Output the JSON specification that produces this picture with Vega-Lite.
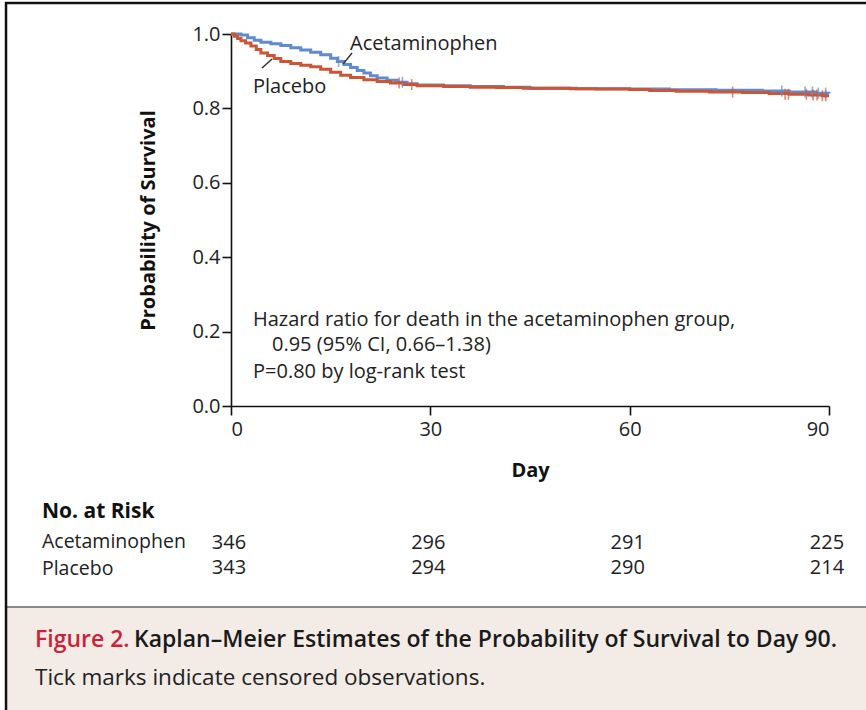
{
  "$schema": "https://vega.github.io/schema/vega-lite/v6.json",
  "width": 598,
  "height": 372,
  "autosize": {"type": "none"},
  "padding": {"left": 231, "top": 34, "right": 37, "bottom": 304},
  "background": "white",
  "config": {
    "view": {"stroke": null},
    "font": "Open Sans",
    "axis": {
      "domainColor": "#111",
      "domainWidth": 1.6,
      "tickColor": "#111",
      "tickWidth": 1.6,
      "tickSize": 9,
      "grid": false,
      "labelColor": "#222",
      "labelFont": "Open Sans",
      "labelFontSize": 20,
      "titleFont": "Open Sans",
      "titleFontWeight": "bold",
      "titleFontSize": 20,
      "titleColor": "#111"
    },
    "text": {"font": "Open Sans", "fontSize": 20, "color": "#222", "align": "left", "baseline": "middle"}
  },
  "layer": [
    {
      "data": {"values": [{"k": "caption"}]},
      "mark": {"type": "rect", "fill": "#f3ece6", "stroke": "#8a8a8a", "strokeWidth": 2},
      "encoding": {
        "x": {"datum": -33.86, "type": "quantitative", "scale": {"domain": [0, 90], "nice": false, "zero": false}, "axis": {"values": [0, 30, 60, 90], "title": "Day", "titlePadding": 21, "labelPadding": 4}},
        "x2": {"datum": 97.7},
        "y": {"datum": -0.5403, "type": "quantitative", "scale": {"domain": [0, 1], "nice": false, "zero": false}, "axis": {"values": [0, 0.2, 0.4, 0.6, 0.8, 1.0], "format": ".1f", "title": "Probability of Survival", "titlePadding": 33, "labelPadding": 2}},
        "y2": {"datum": -0.9}
      }
    },
    {
      "data": {"values": [{"k": "frame"}]},
      "mark": {"type": "rect", "fill": null, "stroke": "#111", "strokeWidth": 2.5},
      "encoding": {
        "x": {"datum": -33.86},
        "x2": {"datum": 97.7},
        "y": {"datum": 1.0833},
        "y2": {"datum": -0.9}
      }
    },
    {
      "data": {"values": [
        {"group": "Acetaminophen", "day": 0, "surv": 1.0},
        {"group": "Acetaminophen", "day": 1.5, "surv": 0.997},
        {"group": "Acetaminophen", "day": 2.5, "surv": 0.99},
        {"group": "Acetaminophen", "day": 3.5, "surv": 0.983},
        {"group": "Acetaminophen", "day": 4.5, "surv": 0.978},
        {"group": "Acetaminophen", "day": 6, "surv": 0.974},
        {"group": "Acetaminophen", "day": 7.5, "surv": 0.969},
        {"group": "Acetaminophen", "day": 9, "surv": 0.963},
        {"group": "Acetaminophen", "day": 10.5, "surv": 0.957},
        {"group": "Acetaminophen", "day": 12, "surv": 0.951},
        {"group": "Acetaminophen", "day": 13.5, "surv": 0.944},
        {"group": "Acetaminophen", "day": 15, "surv": 0.935},
        {"group": "Acetaminophen", "day": 16, "surv": 0.926},
        {"group": "Acetaminophen", "day": 17, "surv": 0.918},
        {"group": "Acetaminophen", "day": 18, "surv": 0.91},
        {"group": "Acetaminophen", "day": 19, "surv": 0.902},
        {"group": "Acetaminophen", "day": 20, "surv": 0.895},
        {"group": "Acetaminophen", "day": 21, "surv": 0.888},
        {"group": "Acetaminophen", "day": 22, "surv": 0.882},
        {"group": "Acetaminophen", "day": 23.5, "surv": 0.876},
        {"group": "Acetaminophen", "day": 25, "surv": 0.87},
        {"group": "Acetaminophen", "day": 26.5, "surv": 0.866},
        {"group": "Acetaminophen", "day": 28, "surv": 0.863},
        {"group": "Acetaminophen", "day": 32, "surv": 0.861},
        {"group": "Acetaminophen", "day": 36, "surv": 0.859},
        {"group": "Acetaminophen", "day": 41, "surv": 0.857},
        {"group": "Acetaminophen", "day": 45, "surv": 0.854},
        {"group": "Acetaminophen", "day": 52, "surv": 0.853},
        {"group": "Acetaminophen", "day": 60, "surv": 0.852},
        {"group": "Acetaminophen", "day": 66, "surv": 0.85},
        {"group": "Acetaminophen", "day": 73, "surv": 0.849},
        {"group": "Acetaminophen", "day": 80, "surv": 0.847},
        {"group": "Acetaminophen", "day": 84, "surv": 0.844},
        {"group": "Acetaminophen", "day": 88, "surv": 0.841},
        {"group": "Acetaminophen", "day": 90, "surv": 0.84},
        {"group": "Placebo", "day": 0, "surv": 1.0},
        {"group": "Placebo", "day": 0.5, "surv": 0.994},
        {"group": "Placebo", "day": 1, "surv": 0.988},
        {"group": "Placebo", "day": 1.5, "surv": 0.982},
        {"group": "Placebo", "day": 2.2, "surv": 0.976},
        {"group": "Placebo", "day": 3, "surv": 0.968},
        {"group": "Placebo", "day": 3.8, "surv": 0.958},
        {"group": "Placebo", "day": 4.5, "surv": 0.949},
        {"group": "Placebo", "day": 5.5, "surv": 0.942},
        {"group": "Placebo", "day": 6.5, "surv": 0.934},
        {"group": "Placebo", "day": 7.5, "surv": 0.926},
        {"group": "Placebo", "day": 9, "surv": 0.921},
        {"group": "Placebo", "day": 10.5, "surv": 0.916},
        {"group": "Placebo", "day": 12, "surv": 0.912},
        {"group": "Placebo", "day": 13.5, "surv": 0.905},
        {"group": "Placebo", "day": 15, "surv": 0.897},
        {"group": "Placebo", "day": 16.5, "surv": 0.889},
        {"group": "Placebo", "day": 18, "surv": 0.883},
        {"group": "Placebo", "day": 20, "surv": 0.877},
        {"group": "Placebo", "day": 22, "surv": 0.872},
        {"group": "Placebo", "day": 24, "surv": 0.868},
        {"group": "Placebo", "day": 26, "surv": 0.864},
        {"group": "Placebo", "day": 28, "surv": 0.861},
        {"group": "Placebo", "day": 32, "surv": 0.859},
        {"group": "Placebo", "day": 36, "surv": 0.857},
        {"group": "Placebo", "day": 40, "surv": 0.856},
        {"group": "Placebo", "day": 44, "surv": 0.854},
        {"group": "Placebo", "day": 51, "surv": 0.853},
        {"group": "Placebo", "day": 55, "surv": 0.852},
        {"group": "Placebo", "day": 60, "surv": 0.851},
        {"group": "Placebo", "day": 63, "surv": 0.848},
        {"group": "Placebo", "day": 67, "surv": 0.846},
        {"group": "Placebo", "day": 72, "surv": 0.844},
        {"group": "Placebo", "day": 77, "surv": 0.843},
        {"group": "Placebo", "day": 81, "surv": 0.84},
        {"group": "Placebo", "day": 84, "surv": 0.838},
        {"group": "Placebo", "day": 87, "surv": 0.836},
        {"group": "Placebo", "day": 89, "surv": 0.834},
        {"group": "Placebo", "day": 90, "surv": 0.834}
      ]},
      "mark": {"type": "line", "interpolate": "step-after", "strokeWidth": 3},
      "encoding": {
        "x": {"field": "day", "type": "quantitative"},
        "y": {"field": "surv", "type": "quantitative"},
        "color": {"field": "group", "type": "nominal", "scale": {"domain": ["Acetaminophen", "Placebo"], "range": ["#5f8bd0", "#cd5534"]}, "legend": null}
      }
    },
    {
      "data": {"values": [
        {"group": "Acetaminophen", "day": 16.2, "surv": 0.926},
        {"group": "Acetaminophen", "day": 25.8, "surv": 0.87},
        {"group": "Acetaminophen", "day": 82.9, "surv": 0.847},
        {"group": "Acetaminophen", "day": 86.4, "surv": 0.844},
        {"group": "Acetaminophen", "day": 87.5, "surv": 0.844},
        {"group": "Acetaminophen", "day": 88.4, "surv": 0.841},
        {"group": "Acetaminophen", "day": 89.5, "surv": 0.841},
        {"group": "Placebo", "day": 25.3, "surv": 0.868},
        {"group": "Placebo", "day": 27.2, "surv": 0.864},
        {"group": "Placebo", "day": 75.5, "surv": 0.844},
        {"group": "Placebo", "day": 83.4, "surv": 0.838},
        {"group": "Placebo", "day": 83.9, "surv": 0.838},
        {"group": "Placebo", "day": 86.6, "surv": 0.838},
        {"group": "Placebo", "day": 87.6, "surv": 0.836},
        {"group": "Placebo", "day": 88.2, "surv": 0.836},
        {"group": "Placebo", "day": 89, "surv": 0.834},
        {"group": "Placebo", "day": 89.5, "surv": 0.834}
      ]},
      "mark": {"type": "tick", "orient": "vertical", "size": 11, "thickness": 1.6},
      "encoding": {
        "x": {"field": "day", "type": "quantitative"},
        "y": {"field": "surv", "type": "quantitative"},
        "color": {"field": "group", "type": "nominal", "legend": null}
      }
    },
    {
      "data": {"values": [
        {"label": "Acetaminophen", "x1": 16.86, "y1": 0.919, "x2": 18.21, "y2": 0.949},
        {"label": "Placebo", "x1": 4.67, "y1": 0.9086, "x2": 6.17, "y2": 0.9328}
      ]},
      "mark": {"type": "rule", "color": "#333", "strokeWidth": 1.5},
      "encoding": {
        "x": {"field": "x1", "type": "quantitative"},
        "x2": {"field": "x2"},
        "y": {"field": "y1", "type": "quantitative"},
        "y2": {"field": "y2"}
      }
    },
    {
      "data": {"values": [{"t": "Acetaminophen"}]},
      "mark": {"type": "text"},
      "encoding": {"text": {"field": "t"}, "x": {"datum": 17.91}, "y": {"datum": 0.973}}
    },
    {
      "data": {"values": [{"t": "Placebo"}]},
      "mark": {"type": "text"},
      "encoding": {"text": {"field": "t"}, "x": {"datum": 3.31}, "y": {"datum": 0.8575}}
    },
    {
      "data": {"values": [{"t": "Hazard ratio for death in the acetaminophen group,"}]},
      "mark": {"type": "text"},
      "encoding": {"text": {"field": "t"}, "x": {"datum": 3.31}, "y": {"datum": 0.2312}}
    },
    {
      "data": {"values": [{"t": "0.95 (95% CI, 0.66–1.38)"}]},
      "mark": {"type": "text"},
      "encoding": {"text": {"field": "t"}, "x": {"datum": 6.17}, "y": {"datum": 0.164}}
    },
    {
      "data": {"values": [{"t": "P=0.80 by log-rank test"}]},
      "mark": {"type": "text"},
      "encoding": {"text": {"field": "t"}, "x": {"datum": 3.31}, "y": {"datum": 0.0914}}
    },
    {
      "data": {"values": [{"t": "No. at Risk"}]},
      "mark": {"type": "text", "fontWeight": "bold", "fontSize": 21, "color": "#111"},
      "encoding": {"text": {"field": "t"}, "x": {"datum": -28.45}, "y": {"datum": -0.285}}
    },
    {
      "data": {"values": [
        {"group": "Acetaminophen", "day": 0, "n": 346},
        {"group": "Acetaminophen", "day": 30, "n": 296},
        {"group": "Acetaminophen", "day": 60, "n": 291},
        {"group": "Acetaminophen", "day": 90, "n": 225},
        {"group": "Placebo", "day": 0, "n": 343},
        {"group": "Placebo", "day": 30, "n": 294},
        {"group": "Placebo", "day": 60, "n": 290},
        {"group": "Placebo", "day": 90, "n": 214}
      ]},
      "layer": [
        {
          "transform": [{"filter": "datum.group === 'Acetaminophen'"}],
          "mark": {"type": "text", "align": "center", "dx": -2},
          "encoding": {"text": {"field": "n"}, "x": {"field": "day", "type": "quantitative"}, "y": {"datum": -0.3683}}
        },
        {
          "transform": [{"filter": "datum.group === 'Placebo'"}],
          "mark": {"type": "text", "align": "center", "dx": -2},
          "encoding": {"text": {"field": "n"}, "x": {"field": "day", "type": "quantitative"}, "y": {"datum": -0.4355}}
        }
      ]
    },
    {
      "data": {"values": [{"t": "Acetaminophen"}]},
      "mark": {"type": "text", "fontSize": 19.5},
      "encoding": {"text": {"field": "t"}, "x": {"datum": -28.45}, "y": {"datum": -0.3655}}
    },
    {
      "data": {"values": [{"t": "Placebo"}]},
      "mark": {"type": "text", "fontSize": 19.5},
      "encoding": {"text": {"field": "t"}, "x": {"datum": -28.45}, "y": {"datum": -0.4385}}
    },
    {
      "data": {"values": [{"t": "Figure 2."}]},
      "mark": {"type": "text", "fontSize": 23, "fontWeight": 600, "color": "#cc2238"},
      "encoding": {"text": {"field": "t"}, "x": {"datum": -29.5}, "y": {"datum": -0.629}}
    },
    {
      "data": {"values": [{"t": "Kaplan–Meier Estimates of the Probability of Survival to Day 90."}]},
      "mark": {"type": "text", "fontSize": 23, "fontWeight": 600, "color": "#1a1a1a"},
      "encoding": {"text": {"field": "t"}, "x": {"datum": -14.6}, "y": {"datum": -0.629}}
    },
    {
      "data": {"values": [{"t": "Tick marks indicate censored observations."}]},
      "mark": {"type": "text", "fontSize": 22.5, "color": "#222"},
      "encoding": {"text": {"field": "t"}, "x": {"datum": -29.5}, "y": {"datum": -0.7312}}
    }
  ]
}
